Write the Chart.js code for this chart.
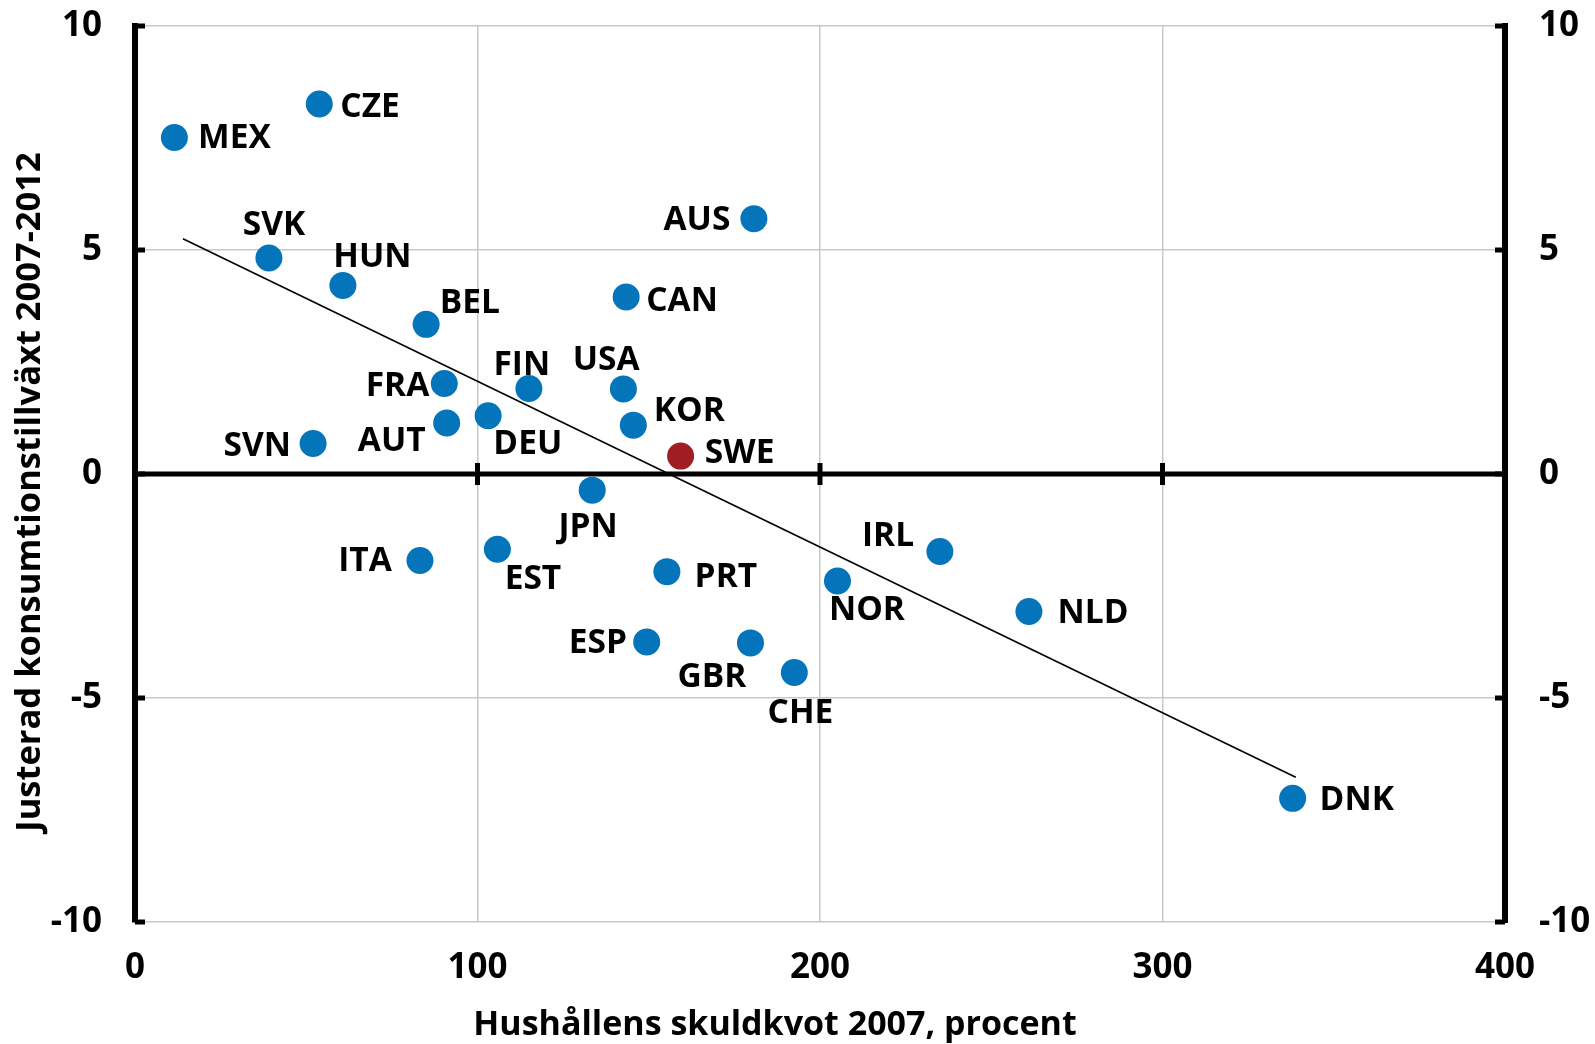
<!DOCTYPE html>
<html>
<head>
<meta charset="utf-8">
<script src="https://cdn.jsdelivr.net/npm/chart.js@4/dist/chart.umd.min.js"></script>
<style>
html,body{margin:0;padding:0;background:#fff;}
#wrap{width:1595px;height:1044px;position:relative;}
</style>
</head>
<body>
<div id="wrap"><canvas id="c" width="1595" height="1044"></canvas></div>
<script>
// ---- data ----
const countries = ["MEX","CZE","SVK","HUN","BEL","FRA","FIN","USA","AUS","CAN","KOR","SWE","SVN","AUT","DEU","JPN","ITA","EST","PRT","NOR","IRL","NLD","ESP","GBR","CHE","DNK"];
const debtRatio2007 = [11.5,53.8,39.1,60.7,85.0,90.3,115.0,142.6,180.7,143.4,145.5,159.3,52.0,91.0,103.1,133.5,83.2,105.8,155.3,205.1,235.0,261.0,149.4,179.7,192.5,338.0];
const consumptionGrowth = [7.51,8.26,4.82,4.21,3.34,2.02,1.91,1.90,5.70,3.95,1.09,0.40,0.68,1.14,1.30,-0.36,-1.93,-1.68,-2.18,-2.39,-1.73,-3.07,-3.75,-3.77,-4.43,-7.24];
const trendX = [14.0, 338.9];
const trendY = [5.25, -6.77];
const xTicks = [0,100,200,300,400];
const yTicks = [-10,-5,0,5,10];
const xTitle = "Hushållens skuldkvot 2007, procent";
const yTitle = "Justerad konsumtionstillväxt 2007-2012";
const highlight = "SWE";

// ---- label placement (style) ----
const labelOffsets = {
  MEX:[59,0], CZE:[50,2], SVK:[5,-33], HUN:[29,-28], BEL:[43,-22], FRA:[-46,2],
  FIN:[-7,-24], USA:[-17,-29], AUS:[-56,1], CAN:[55,3], KOR:[55,-14], SWE:[58,-4],
  SVN:[-55,2], AUT:[-54,17], DEU:[39,27], JPN:[-4,36], ITA:[-54,0], EST:[35,29],
  PRT:[58,5], NOR:[29,28], IRL:[-51,-16], NLD:[63,1], ESP:[-48,0], GBR:[-38,33],
  CHE:[6,39], DNK:[63,1]
};
const FONT = "'Open Sans', 'Noto Sans', sans-serif";
const BLUE = '#0475BB', RED = '#A11D24';

const points = countries.map((c,i)=>({x:debtRatio2007[i], y:consumptionGrowth[i], label:c}));
const trend = trendX.map((x,i)=>({x, y:trendY[i]}));

const extras = {
  id:'extras',
  beforeDatasetsDraw(chart){
    const {ctx, chartArea:a, scales:{x, y}} = chart;
    ctx.save();
    ctx.strokeStyle = '#000';
    const y0 = y.getPixelForValue(0);
    ctx.lineWidth = 5;
    ctx.beginPath(); ctx.moveTo(a.left, y0); ctx.lineTo(a.right, y0); ctx.stroke();
    xTicks.forEach(v=>{
      if (v===0 || v===400) return;
      const px = x.getPixelForValue(v);
      ctx.beginPath(); ctx.moveTo(px, y0-11); ctx.lineTo(px, y0+11); ctx.stroke();
    });
    yTicks.forEach(v=>{
      const py = y.getPixelForValue(v);
      ctx.beginPath(); ctx.moveTo(a.left, py); ctx.lineTo(a.left+10, py); ctx.stroke();
      ctx.beginPath(); ctx.moveTo(a.right-10, py); ctx.lineTo(a.right, py); ctx.stroke();
    });
    ctx.restore();
  },
  afterDatasetsDraw(chart){
    const {ctx} = chart;
    const meta = chart.getDatasetMeta(0);
    ctx.save();
    ctx.fillStyle = '#000';
    ctx.font = "bold 33.5px " + FONT;
    ctx.textAlign = 'center';
    ctx.textBaseline = 'middle';
    meta.data.forEach((el,i)=>{
      const c = countries[i];
      const o = labelOffsets[c] || [40,0];
      ctx.fillText(c, el.x + o[0]*1.0172, el.y + o[1]*1.0172 + 1);
    });
    ctx.font = "bold 34px " + FONT;
    ctx.fillText(xTitle, 775, 1025);
    ctx.translate(30, 492);
    ctx.rotate(-Math.PI/2);
    ctx.font = "bold 34.5px " + FONT;
    ctx.fillText(yTitle, 0, 0);
    ctx.restore();
  }
};

const tickFont = {family: FONT, size: 35, weight: 'bold'};
function noPad(s){ s.paddingTop = 0; s.paddingBottom = 0; s.paddingLeft = 0; s.paddingRight = 0; }

new Chart(document.getElementById('c'), {
  type: 'scatter',
  data: {
    datasets: [
      {
        data: points,
        pointRadius: 13.5,
        pointHoverRadius: 13.5,
        pointBackgroundColor: countries.map(c=> c===highlight ? RED : BLUE),
        pointBorderWidth: 0,
        showLine: false
      },
      {
        data: trend,
        showLine: true,
        borderColor: '#000',
        borderWidth: 1.6,
        pointRadius: 0,
        fill: false
      }
    ]
  },
  options: {
    responsive: false,
    animation: false,
    events: [],
    layout: {padding: {top: 26, left: 0, right: 0, bottom: 0}},
    plugins: {legend:{display:false}, tooltip:{enabled:false}, title:{display:false}},
    scales: {
      x: {
        type: 'linear', position: 'bottom', min: 0, max: 400,
        afterFit(s){ s.height = 122; noPad(s); },
        afterBuildTicks(s){ s.ticks = xTicks.map(v=>({value:v})); },
        border: {display: false},
        grid: {color: '#C8C8C8', lineWidth: 1.5, drawTicks: false},
        ticks: {font: tickFont, color: '#000', padding: 25, maxRotation: 0}
      },
      y: {
        type: 'linear', position: 'left', min: -10, max: 10,
        afterFit(s){ s.width = 135; noPad(s); },
        afterBuildTicks(s){ s.ticks = yTicks.map(v=>({value:v})); },
        border: {display: true, color: '#000', width: 6},
        grid: {color: ctx => ctx.tick && ctx.tick.value===0 ? 'rgba(0,0,0,0)' : '#C8C8C8', lineWidth: 1.5, drawTicks: false},
        ticks: {font: tickFont, color: '#000', padding: 33}
      },
      y2: {
        type: 'linear', position: 'right', min: -10, max: 10,
        afterFit(s){ s.width = 90; noPad(s); },
        afterBuildTicks(s){ s.ticks = yTicks.map(v=>({value:v})); },
        border: {display: true, color: '#000', width: 6},
        grid: {display: false, drawTicks: false},
        ticks: {font: tickFont, color: '#000', padding: 34}
      }
    }
  },
  plugins: [extras]
});
</script>
</body>
</html>
